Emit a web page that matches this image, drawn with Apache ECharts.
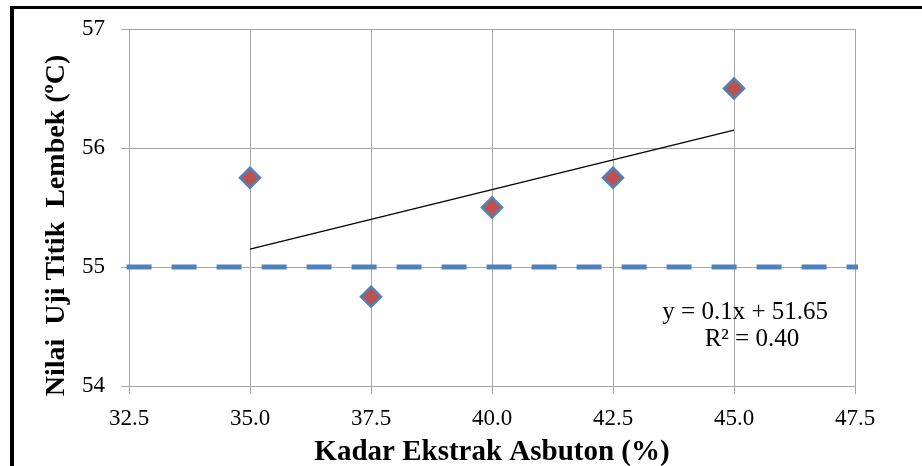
<!DOCTYPE html>
<html>
<head>
<meta charset="utf-8">
<script src="https://cdn.jsdelivr.net/npm/echarts@6/dist/echarts.min.js"></script>
<style>html,body{margin:0;padding:0;background:#fff}#c{width:922px;height:466px}</style>
</head>
<body>
<div id="c"></div>
<script>
const kadar = [35.0, 37.5, 40.0, 42.5, 45.0];
const titikLembek = [55.75, 54.75, 55.5, 55.75, 56.5];
const batasX = [32.45, 47.77];
const batasY = [55, 55];
const trendSlope = 0.1;
const trendIntercept = 51.65;
const trendX = [35.0, 45.0];
const eqText = 'y = 0.1x + 51.65';
const r2Text = 'R² = 0.40';
const xTitle = 'Kadar Ekstrak Asbuton (%)';
const yTitle = 'Nilai  Uji Titik  Lembek (ºC)';

const font = '"Liberation Serif", "Times New Roman", serif';
const chart = echarts.init(document.getElementById('c'), null, {renderer: 'canvas'});
const gridColor = '#a6a6a6';

chart.setOption({
  animation: false,
  grid: {left: 129, right: 67, top: 29, bottom: 80, containLabel: false, outerBoundsMode: 'none'},
  xAxis: {
    type: 'value', min: 32.5, max: 47.5, interval: 2.5,
    axisLine: {show: true, lineStyle: {color: gridColor, width: 1}},
    axisTick: {show: true, length: 8, lineStyle: {color: gridColor}},
    splitLine: {show: true, lineStyle: {color: gridColor, width: 1}},
    axisLabel: {formatter: v => v.toFixed(1), color: '#000', fontFamily: font, fontSize: 23, margin: 21},
    name: xTitle, nameLocation: 'middle', nameGap: 52,
    nameTextStyle: {color: '#000', fontFamily: font, fontSize: 29, fontWeight: 'bold'}
  },
  yAxis: {
    type: 'value', min: 54, max: 57, interval: 1,
    axisLine: {show: true, lineStyle: {color: gridColor, width: 1}},
    axisTick: {show: true, length: 8, lineStyle: {color: gridColor}},
    splitLine: {show: true, lineStyle: {color: gridColor, width: 1}},
    axisLabel: {color: '#000', fontFamily: font, fontSize: 23, margin: 24},
    name: yTitle, nameLocation: 'middle', nameGap: 58, nameRotate: 90,
    nameTextStyle: {color: '#000', fontFamily: font, fontSize: 28, fontWeight: 'bold', padding: [0, 36, 0, 0]}
  },
  graphic: [
    {type: 'rect', shape: {x: 10, y: 6, width: 912, height: 3}, style: {fill: '#000'}},
    {type: 'rect', shape: {x: 10, y: 6, width: 4, height: 460}, style: {fill: '#000'}}
  ],
  series: [
    {
      type: 'line', clip: false, symbol: 'none', z: 2,
      data: batasX.map((x, i) => [x, batasY[i]]),
      lineStyle: {color: '#4f81bd', width: 5, type: [25, 20], cap: 'butt'}
    },
    {
      type: 'line', symbol: 'none', z: 3,
      data: trendX.map(x => [x, trendSlope * x + trendIntercept]),
      lineStyle: {color: '#000', width: 1.3},
      markPoint: {
        symbol: 'rect', symbolSize: 1, itemStyle: {color: 'transparent'},
        data: [
          {coord: [45.23, 54.62], label: {show: true, formatter: eqText, color: '#000', fontFamily: font, fontSize: 25}},
          {coord: [45.37, 54.39], label: {show: true, formatter: r2Text, color: '#000', fontFamily: font, fontSize: 25}}
        ]
      }
    },
    {
      type: 'scatter', z: 5,
      data: kadar.map((x, i) => [x, titikLembek[i]]),
      symbol: 'diamond', symbolSize: 20,
      itemStyle: {color: '#c0504d', borderColor: '#4f81bd', borderWidth: 2.5, opacity: 1}
    }
  ]
});
</script>
</body>
</html>
